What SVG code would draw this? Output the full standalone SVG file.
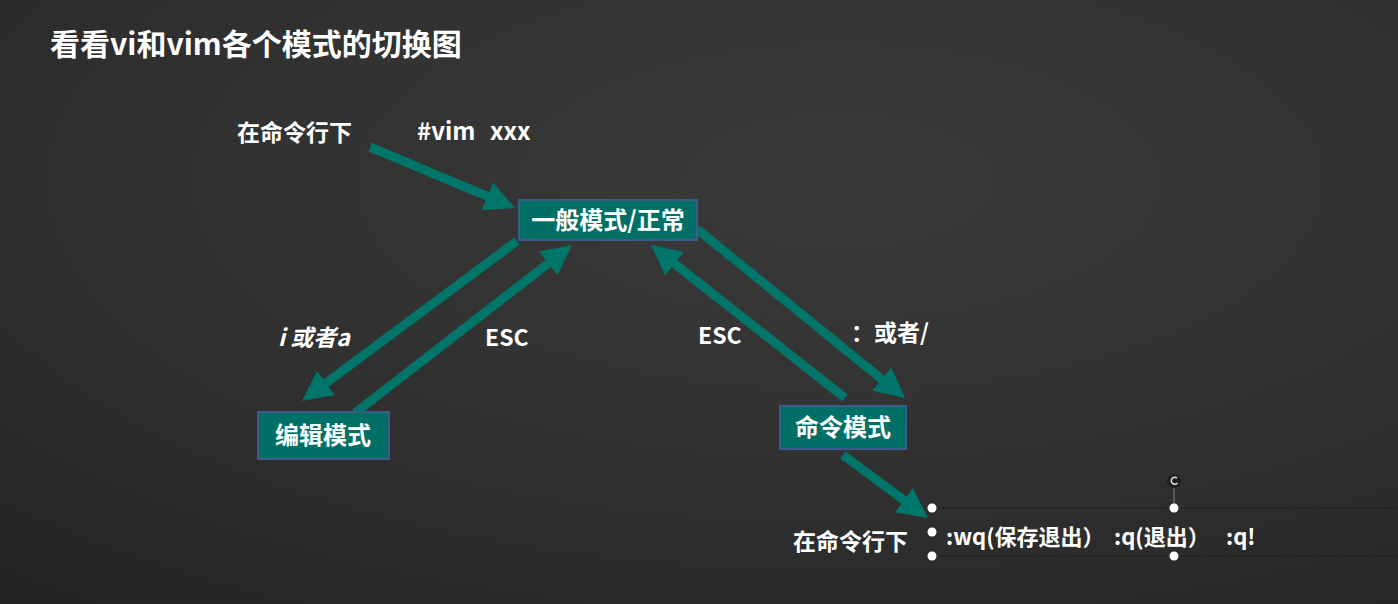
<svg xmlns="http://www.w3.org/2000/svg" width="1398" height="604" viewBox="0 0 1398 604">
<defs>
<radialGradient id="bg" cx="0.6" cy="0.3" r="0.9">
<stop offset="0" stop-color="#3a3a3a"/>
<stop offset="0.6" stop-color="#2f2f2f"/>
<stop offset="1" stop-color="#242424"/>
</radialGradient>
<marker id="ah" viewBox="0 0 10 10" markerWidth="30" markerHeight="30" markerUnits="userSpaceOnUse" refX="2" refY="5" orient="auto">
<path d="M0,0 L10,5 L0,10 Z" fill="#00766b"/>
</marker>
</defs>
<style>
text{font-family:"Noto Sans CJK SC","Noto Sans",sans-serif;font-weight:bold;fill:#ffffff;white-space:pre}
.lbl{font-size:23px}
.box{fill:#006f65;stroke:#3d5a8a;stroke-width:2}
.bt{font-size:24px;text-anchor:middle}
.arr{stroke:#00766b;stroke-width:9;fill:none;marker-end:url(#ah)}
.h{fill:#ffffff}
.dot{stroke:#111;stroke-width:1;stroke-dasharray:1.5 2;fill:none}
</style>
<rect width="1398" height="604" fill="url(#bg)"/>
<text x="50" y="55" style="font-size:30px">看看vi和vim各个模式的切换图</text>
<g id="labels">
<text class="lbl" x="237" y="141">在命令行下</text>
<text class="lbl" y="140" style="font-size:24px"><tspan x="417">#vim</tspan><tspan x="490">xxx</tspan></text>
<text class="lbl" x="278" y="346" font-style="italic">i 或者a</text>
<text class="lbl" x="485" y="346">ESC</text>
<text class="lbl" x="698" y="344">ESC</text>
<text class="lbl" x="851" y="341">：或者/</text>
<text class="lbl" x="793" y="550">在命令行下</text>
</g>
<g id="connectors">
<line class="arr" x1="370" y1="147" x2="492.9" y2="198.7"/>
<line class="arr" x1="517" y1="241" x2="321.2" y2="386.7"/>
<line class="arr" x1="355" y1="413" x2="553" y2="259.7"/>
<line class="arr" x1="845" y1="398" x2="669.8" y2="259.9"/>
<line class="arr" x1="697" y1="229" x2="886.4" y2="382.9"/>
<line class="arr" x1="843" y1="455" x2="908.7" y2="503.7"/>
</g>
<g id="normal">
<rect class="box" x="519" y="200" width="178" height="40"/>
<text class="bt" x="608" y="229">一般模式/正常</text>
</g>
<g id="edit">
<rect class="box" x="258" y="412" width="131" height="47"/>
<text class="bt" x="323" y="444">编辑模式</text>
</g>
<g id="command">
<rect class="box" x="780" y="406" width="126" height="43"/>
<text class="bt" x="843" y="436">命令模式</text>
</g>
<g id="cmdtext">
<line class="dot" x1="932" y1="508" x2="1398" y2="508"/>
<line class="dot" x1="932" y1="556" x2="1398" y2="556"/>
<line x1="1174" y1="486" x2="1174" y2="508" stroke="#666" stroke-width="1.5"/>
<circle cx="1174" cy="481" r="7" fill="#1e1e1e"/>
<path d="M1177,478 A3.5,3.5 0 1 0 1177.5,483" stroke="#ddd" stroke-width="1.6" fill="none"/>
<circle class="h" cx="932" cy="508" r="4.5"/>
<circle class="h" cx="932" cy="532" r="4.5"/>
<circle class="h" cx="932" cy="556" r="4.5"/>
<circle class="h" cx="1174" cy="508" r="4.5"/>
<circle class="h" cx="1174" cy="556" r="4.5"/>
<text y="545" style="font-size:22px"><tspan x="946">:wq(保存退出）</tspan><tspan x="1114">:q(退出）</tspan><tspan x="1226">:q!</tspan></text>
</g>
</svg>
